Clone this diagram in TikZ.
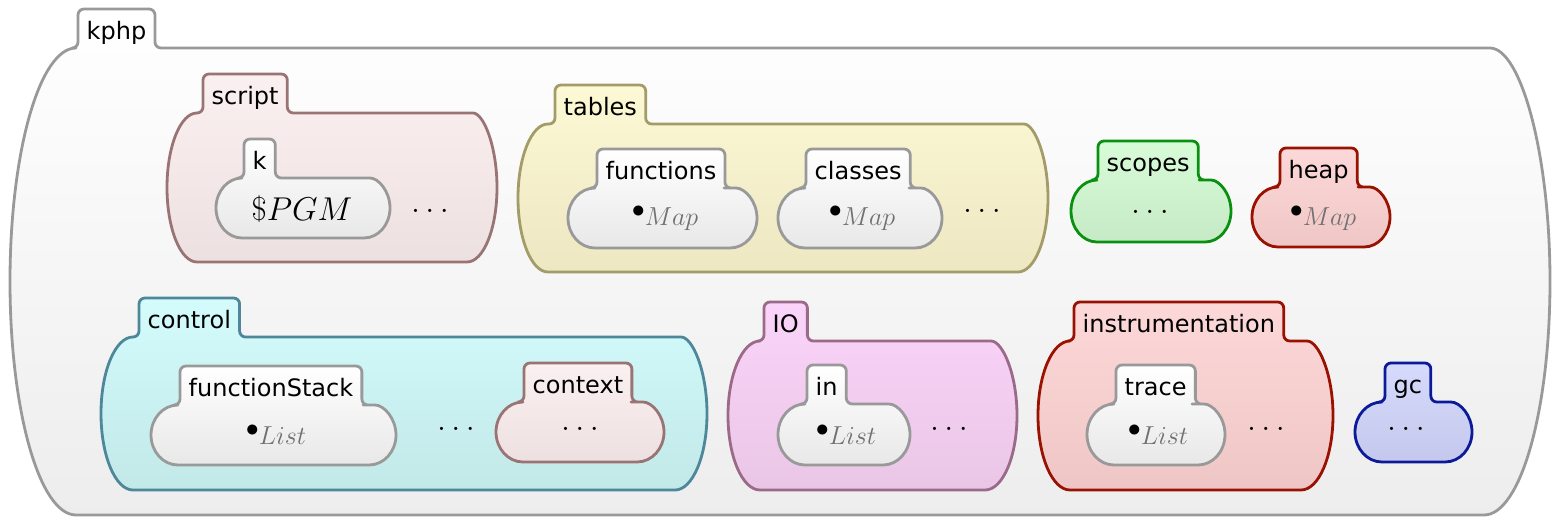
\RequirePackage{fix-cm}
\documentclass[tikz,border=0pt]{standalone}
\usepackage{fontspec}
\setmainfont{DejaVu Sans}
\usetikzlibrary{backgrounds}

\definecolor{grayline}{HTML}{999999}
\definecolor{brownline}{HTML}{9A7474}
\definecolor{oliveline}{HTML}{A39C68}
\definecolor{greenline}{HTML}{0A9010}
\definecolor{redline}{HTML}{991100}
\definecolor{tealline}{HTML}{4D8799}
\definecolor{mauveline}{HTML}{9A6A88}
\definecolor{blueline}{HTML}{0A1A99}
\definecolor{mapgray}{HTML}{707070}

\newcommand{\kdotct}[1]{$\bullet$\raisebox{-8pt}{\color{mapgray}$#1$}}

% #1 name, #2 colours, #3 left, #4 body top, #5 right, #6 bottom, #7 tab left, #8 bulge, #9 label
\newcommand{\kcell}[9]{%
  \node[celltab,anchor=base west] (#1) at (#7,#4-9) {#9};
  \begin{pgfonlayer}{background}
    \path[cell,#2] (#3+#8,#6) arc[start angle=90,end angle=270,x radius=#8,y radius={(#6-#4)/2}]
      {[rounded corners=6pt] -- (#7,#4) -- (#7,#4-39) -- (#1.east |- 0,#4-39) -- (#1.east |- 0,#4) -- (#5-#8,#4)}
      arc[start angle=-90,end angle=90,x radius=#8,y radius={(#6-#4)/2}] -- cycle;
  \end{pgfonlayer}}

\begin{document}
\begin{tikzpicture}[x=1pt,y=-1pt,
    celltab/.style={inner xsep=8.5pt,inner ysep=0pt,font=\fontsize{24}{28}\selectfont},
    cell/.style={line width=2.8pt,line join=round},
    gcell/.style={draw=grayline,top color=white,bottom color=black!7},
    wcell/.style={draw=grayline,top color=white,bottom color=black!9},
    brcell/.style={draw=brownline,top color={rgb,255:red,251;green,240;blue,240},bottom color={rgb,255:red,237;green,224;blue,224}},
    ycell/.style={draw=oliveline,top color={rgb,255:red,252;green,249;blue,212},bottom color={rgb,255:red,237;green,231;blue,194}},
    gncell/.style={draw=greenline,top color={rgb,255:red,216;green,252;blue,216},bottom color={rgb,255:red,198;green,234;blue,198}},
    rcell/.style={draw=redline,top color={rgb,255:red,253;green,216;blue,216},bottom color={rgb,255:red,239;green,198;blue,198}},
    ccell/.style={draw=tealline,top color={rgb,255:red,212;green,252;blue,252},bottom color={rgb,255:red,194;green,232;blue,232}},
    mcell/.style={draw=mauveline,top color={rgb,255:red,250;green,212;blue,250},bottom color={rgb,255:red,234;green,198;blue,230}},
    bcell/.style={draw=blueline,top color={rgb,255:red,214;green,218;blue,252},bottom color={rgb,255:red,196;green,200;blue,236}},
    kdots/.style={anchor=base,inner sep=0pt,font=\fontsize{33}{38}\selectfont},
    kmap/.style={anchor=base,inner sep=0pt,font=\fontsize{26}{30}\selectfont}]
  \useasboundingbox (0,0) rectangle (1559,525);

  \kcell{kphp}{gcell}{10}{48}{1550}{515}{78}{66}{kphp}
  \kcell{script}{brcell}{167}{113}{497}{262}{203}{30}{script}
  \kcell{k}{wcell}{216}{178}{390}{238}{244}{26}{k}
  \kcell{tables}{ycell}{518}{124}{1048}{272}{555}{30}{tables}
  \kcell{functions}{wcell}{568}{188}{757}{248}{597}{27}{functions}
  \kcell{classes}{wcell}{778}{188}{942}{248}{806}{27}{classes}
  \kcell{scopes}{gncell}{1071}{180}{1231}{242}{1098}{26}{scopes}
  \kcell{heap}{rcell}{1252}{187}{1390}{247}{1280}{26}{heap}
  \kcell{control}{ccell}{101}{337}{707}{490}{139}{32}{control}
  \kcell{functionStack}{wcell}{151}{405}{396}{465}{180}{27}{functionStack}
  \kcell{context}{brcell}{496}{402}{664}{462}{524}{27}{context}
  \kcell{IO}{mcell}{728}{341}{1017}{490}{764}{32}{IO}
  \kcell{in}{wcell}{778}{404}{910}{465}{807}{27}{in}
  \kcell{instrumentation}{rcell}{1038}{341}{1333}{490}{1074}{32}{instrumentation}
  \kcell{trace}{wcell}{1087}{404}{1225}{465}{1116}{27}{trace}
  \kcell{gc}{bcell}{1355}{402}{1472}{462}{1385}{27}{gc}

  \node[anchor=base,inner sep=0pt] (pgm) at (302,220) {\fontsize{33}{36}\selectfont$\$PGM$};
  \node[kdots] (scriptdots) at (430,212) {$\ldots$};
  \node[kmap] (functionsmap) at (665,217) {\kdotct{Map}};
  \node[kmap] (classesmap) at (862,217) {\kdotct{Map}};
  \node[kdots] (tablesdots) at (982,212) {$\ldots$};
  \node[kdots] (scopesdots) at (1150,213) {$\ldots$};
  \node[kmap] (heapmap) at (1323,217) {\kdotct{Map}};
  \node[kmap] (stacklist) at (276,436) {\kdotct{List}};
  \node[kdots] (controldots) at (456,430) {$\ldots$};
  \node[kdots] (contextdots) at (580,430) {$\ldots$};
  \node[kmap] (inlist) at (846,436) {\kdotct{List}};
  \node[kdots] (IOdots) at (949,430) {$\ldots$};
  \node[kmap] (tracelist) at (1158,436) {\kdotct{List}};
  \node[kdots] (instrdots) at (1266,430) {$\ldots$};
  \node[kdots] (gcdots) at (1406,430) {$\ldots$};
\end{tikzpicture}
\end{document}
